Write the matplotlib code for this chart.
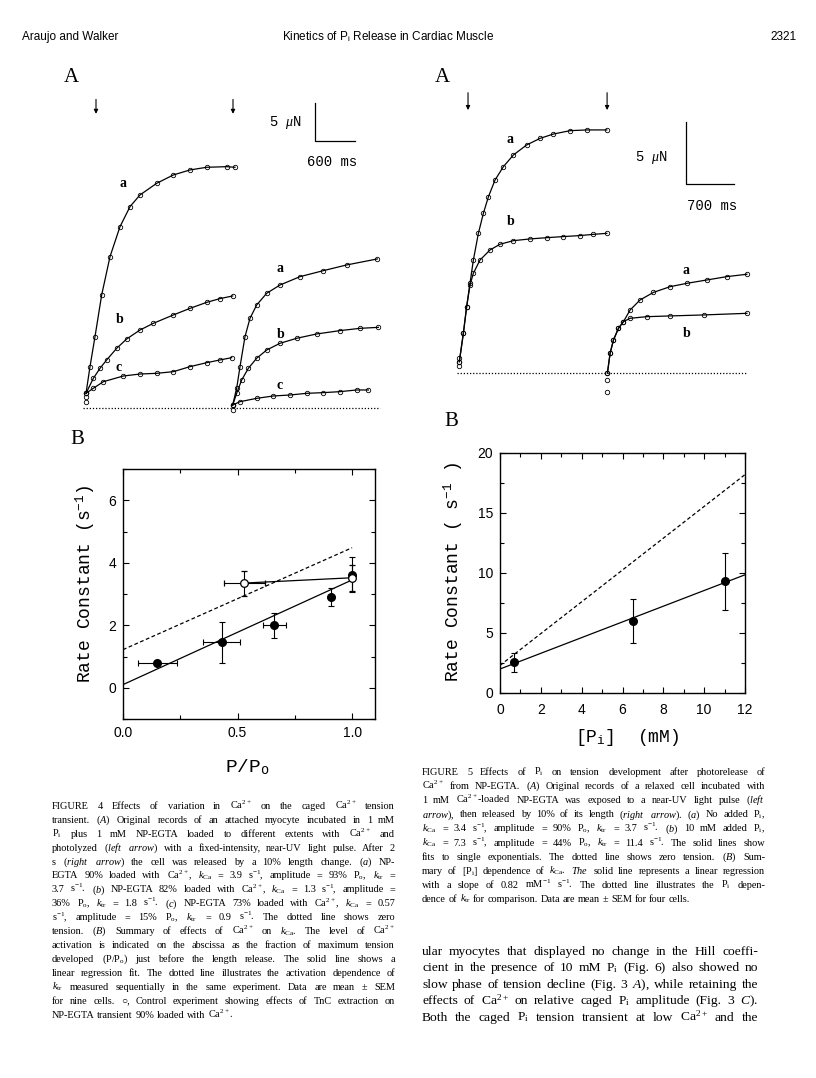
import matplotlib
matplotlib.use("Agg")
import matplotlib.pyplot as plt
from matplotlib.ticker import MultipleLocator

plt.rcParams['mathtext.fontset'] = 'custom'
plt.rcParams['mathtext.rm'] = 'Liberation Serif'
plt.rcParams['mathtext.it'] = 'Liberation Serif:italic'
plt.rcParams['mathtext.bf'] = 'Liberation Serif:bold'
plt.rcParams['mathtext.sf'] = 'Liberation Sans'
plt.rcParams['mathtext.tt'] = 'Liberation Mono'

SERIF = ['Liberation Serif', 'DejaVu Sans']
SANS = 'Liberation Sans'
MONO = 'Liberation Mono'

# ---- Fig 4A traces (time in ms, tension in uN) ----
f4_a1_t = [0, 60, 135, 235, 360, 510, 660, 810, 1060, 1310, 1560, 1810, 2110, 2235]
f4_a1_y = [1.93, 5.44, 9.39, 14.87, 19.91, 23.86, 26.49, 28.03, 29.56, 30.66, 31.32, 31.67, 31.75, 31.67]
f4_b1_t = [0, 110, 210, 310, 460, 610, 810, 1010, 1310, 1560, 1810, 2010, 2200]
f4_b1_y = [1.93, 3.9, 5.22, 6.32, 7.85, 9.08, 10.26, 11.14, 12.24, 13.11, 13.9, 14.39, 14.74]
f4_c1_t = [0, 110, 260, 560, 810, 1060, 1310, 1560, 1810, 2010, 2185]
f4_c1_y = [1.93, 2.59, 3.46, 4.21, 4.47, 4.56, 4.78, 5.44, 5.96, 6.32, 6.62]
f4_a2_t = [2200, 2260, 2310, 2385, 2460, 2560, 2710, 2910, 3210, 3560, 3910, 4370]
f4_a2_y = [0.39, 2.59, 5.44, 9.39, 11.8, 13.55, 15.09, 16.18, 17.28, 18.07, 18.82, 19.61]
f4_b2_t = [2200, 2260, 2335, 2435, 2560, 2710, 2910, 3160, 3460, 3810, 4110, 4385]
f4_b2_y = [0.39, 1.93, 3.68, 5.22, 6.54, 7.63, 8.51, 9.17, 9.74, 10.18, 10.48, 10.61]
f4_c2_t = [2200, 2310, 2560, 2810, 3060, 3310, 3560, 3810, 4060, 4235]
f4_c2_y = [0.39, 0.83, 1.27, 1.58, 1.71, 1.93, 2.02, 2.15, 2.37, 2.37]
f4_extra_t = [0, 0, 2200]
f4_extra_y = [1.49, 0.83, -0.26]

# ---- Fig 5A traces ----
f5_a1_t = [0, 59, 107, 156, 205, 278, 351, 424, 521, 643, 789, 983, 1178, 1373, 1616, 1860, 2152]
f5_a1_y = [0.91, 3.2, 5.35, 7.23, 9.11, 11.26, 12.88, 14.2, 15.56, 16.64, 17.58, 18.39, 18.92, 19.27, 19.54, 19.6, 19.6]
f5_b1_t = [0, 59, 107, 156, 205, 302, 448, 594, 789, 1032, 1275, 1519, 1762, 1957, 2152]
f5_b1_y = [0.91, 3.2, 5.35, 7.1, 8.04, 9.11, 9.92, 10.38, 10.67, 10.81, 10.91, 11.0, 11.08, 11.18, 11.26]
f5_a2_t = [2161, 2200, 2249, 2322, 2395, 2492, 2638, 2833, 3076, 3320, 3612, 3904, 4196]
f5_a2_y = [0.0, 1.59, 2.66, 3.6, 4.14, 5.08, 5.89, 6.5, 6.96, 7.23, 7.5, 7.77, 7.96]
f5_b2_t = [2161, 2200, 2249, 2322, 2395, 2492, 2736, 3076, 3563, 4196]
f5_b2_y = [0.0, 1.59, 2.66, 3.6, 4.14, 4.41, 4.54, 4.6, 4.68, 4.81]
f5_extra_t = [0, 0, 2161, 2161]
f5_extra_y = [1.2, 0.6, -0.56, -1.5]

# ---- Fig 4B ----
f4b_x = [0.15, 0.43, 0.66, 0.91, 1.0]
f4b_y = [0.8, 1.45, 2.0, 2.9, 3.62]
f4b_xerr = [0.085, 0.08, 0.05, 0, 0]
f4b_yerr = [0, 0.65, 0.4, 0.28, 0.55]
f4b_open_x = [0.53, 1.0]
f4b_open_y = [3.35, 3.52]
f4b_open_xerr = [0.09, 0]
f4b_open_yerr = [0.4, 0.42]
f4b_fit_x = [0.0, 1.0]
f4b_fit_y = [0.1, 3.45]
f4b_ktr_x = [0.0, 1.0]
f4b_ktr_y = [1.22, 4.48]

# ---- Fig 5B ----
f5b_x = [0.7, 6.5, 11.0]
f5b_y = [2.55, 6.0, 9.3]
f5b_yerr = [0.8, 1.85, 2.4]
f5b_fit_x = [0, 12]
f5b_fit_y = [2.0, 9.85]
f5b_ktr_x = [0, 12]
f5b_ktr_y = [2.3, 18.2]

W, H = 816, 1078
fig = plt.figure(figsize=(W / 100, H / 100), dpi=100)


def ax_at(x0, y0, x1, y1):
    return fig.add_axes([x0 / W, 1 - y1 / H, (x1 - x0) / W, (y1 - y0) / H])


def ftext(x, y, s, **kw):
    return fig.text(x / W, 1 - y / H, s, **kw)


def justify(line, x0, x1, y, size, full=True):
    words = line.split(' ')
    objs = [ftext(x0, y, w, fontsize=size, family=SERIF, va='baseline') for w in words]
    r = fig.canvas.get_renderer()
    widths = [o.get_window_extent(r).width for o in objs]
    if full and len(words) > 1:
        gap = (x1 - x0 - sum(widths)) / (len(words) - 1)
    else:
        gap = size * 0.35
    x = x0
    for o, w in zip(objs, widths):
        o.set_x(x / W)
        x += w + gap


def trace(ax, t, y):
    ax.plot(t, y, color='k', lw=0.9, marker='o', ms=3.2, mfc='none', mec='k', mew=0.6)


def arrow(ax, t, y0, y1):
    ax.annotate('', xy=(t, y1), xytext=(t, y0),
                arrowprops=dict(arrowstyle='-|>', lw=0.8, color='k', mutation_scale=6,
                                shrinkA=0, shrinkB=0))


# header
ftext(22, 40, 'Araujo and Walker', fontsize=8.5, family=SANS)
ftext(282, 40, r'Kinetics of P$_\mathsf{i}$ Release in Cardiac Muscle', fontsize=8.5, family=SANS)
ftext(797, 40, '2321', fontsize=8.5, family=SANS, ha='right')

# ---------- Fig 4A ----------
ax = ax_at(80, 95, 390, 420)
ax.set_xlim(-90, 4560)
ax.set_ylim(-1.58, 41.18)
ax.axis('off')
for t, y in [(f4_a1_t, f4_a1_y), (f4_b1_t, f4_b1_y), (f4_c1_t, f4_c1_y),
             (f4_a2_t, f4_a2_y), (f4_b2_t, f4_b2_y), (f4_c2_t, f4_c2_y)]:
    trace(ax, t, y)
ax.plot(f4_extra_t, f4_extra_y, 'o', ms=3.2, mfc='none', mec='k', mew=0.6)
ax.plot([-45, 4410], [0, 0], color='k', lw=0.9, ls=(0, (1, 1.5)))
ax.plot([3435, 3435, 4035], [40.13, 35.13, 35.13], color='k', lw=0.9)
ax.text(3240, 37.5, r'5 $\mu$N', family=MONO, fontsize=10, ha='right', va='center')
ax.text(3690, 32.4, '600 ms', family=MONO, fontsize=10, ha='center', va='center')
arrow(ax, 150, 40.6, 38.7)
arrow(ax, 2205, 40.6, 38.7)
for s, t, y in [('a', 555, 29.6), ('b', 510, 11.6), ('c', 495, 5.3),
                ('a', 2910, 18.3), ('b', 2925, 9.7), ('c', 2910, 3.0)]:
    ax.text(t, y, s, family=SERIF, fontweight='bold', fontsize=10, ha='center', va='center')

# ---------- Fig 5A ----------
ax = ax_at(450, 90, 760, 400)
ax.set_xlim(-136, 4387)
ax.set_ylim(-2.18, 22.82)
ax.axis('off')
for t, y in [(f5_a1_t, f5_a1_y), (f5_b1_t, f5_b1_y), (f5_a2_t, f5_a2_y), (f5_b2_t, f5_b2_y)]:
    trace(ax, t, y)
ax.plot(f5_extra_t, f5_extra_y, 'o', ms=3.2, mfc='none', mec='k', mew=0.6)
ax.plot([-34, 4197], [0, 0], color='k', lw=0.9, ls=(0, (1, 1.5)))
ax.plot([3310, 3310, 4010], [20.24, 15.24, 15.24], color='k', lw=0.9)
ax.text(3047, 17.4, r'5 $\mu$N', family=MONO, fontsize=10, ha='right', va='center')
ax.text(3695, 13.5, '700 ms', family=MONO, fontsize=10, ha='center', va='center')
arrow(ax, 127, 22.6, 21.2)
arrow(ax, 2156, 22.6, 21.2)
for s, t, y in [('a', 740, 18.8), ('b', 755, 12.2), ('a', 3310, 8.3), ('b', 3310, 3.2)]:
    ax.text(t, y, s, family=SERIF, fontweight='bold', fontsize=10, ha='center', va='center')


def style_axes(ax):
    for sp in ax.spines.values():
        sp.set_linewidth(1.0)
    ax.tick_params(which='both', direction='in', top=True, right=True, width=0.8)
    ax.tick_params(which='major', length=4, pad=5, labelsize=10)
    ax.tick_params(which='minor', length=3)
    for lab in ax.get_xticklabels() + ax.get_yticklabels():
        lab.set_family(SANS)


# ---------- Fig 4B ----------
ax = ax_at(123, 469, 375, 719)
ax.set_xlim(0, 1.1)
ax.set_ylim(-1, 7)
ax.set_xticks([0, 0.5, 1.0])
ax.set_xticklabels(['0.0', '0.5', '1.0'])
ax.set_yticks([0, 2, 4, 6])
ax.xaxis.set_minor_locator(MultipleLocator(0.25))
ax.yaxis.set_minor_locator(MultipleLocator(1))
style_axes(ax)
ax.plot(f4b_fit_x, f4b_fit_y, color='k', lw=0.9)
ax.plot(f4b_ktr_x, f4b_ktr_y, color='k', lw=0.9, ls=(0, (3, 2)))
ax.plot(f4b_open_x, f4b_open_y, color='k', lw=0.9)
ax.errorbar(f4b_x, f4b_y, xerr=f4b_xerr, yerr=f4b_yerr, fmt='o', color='k', ms=5.5,
            elinewidth=0.8, capsize=2.5, capthick=0.8)
ax.errorbar(f4b_open_x, f4b_open_y, xerr=f4b_open_xerr, yerr=f4b_open_yerr, fmt='o', color='k',
            mfc='white', ms=5.5, mew=0.9, elinewidth=0.8, capsize=2.5, capthick=0.8)
ftext(85, 584, r'Rate Constant (s$^{\mathtt{-1}}$)', family=MONO, fontsize=13,
      rotation=90, ha='center', va='center')
ftext(247, 767, r'P/P$_\mathtt{o}$', family=MONO, fontsize=14, ha='center', va='center')

# ---------- Fig 5B ----------
ax = ax_at(500, 453, 745, 693)
ax.set_xlim(0, 12)
ax.set_ylim(0, 20)
ax.set_xticks(range(0, 13, 2))
ax.set_yticks([0, 5, 10, 15, 20])
ax.xaxis.set_minor_locator(MultipleLocator(1))
ax.yaxis.set_minor_locator(MultipleLocator(2.5))
style_axes(ax)
ax.tick_params(axis='x', pad=7)
ax.plot(f5b_fit_x, f5b_fit_y, color='k', lw=0.9)
ax.plot(f5b_ktr_x, f5b_ktr_y, color='k', lw=0.9, ls=(0, (3, 2)))
ax.errorbar(f5b_x, f5b_y, yerr=f5b_yerr, fmt='o', color='k', ms=5.5,
            elinewidth=0.8, capsize=2.5, capthick=0.8)
ftext(453, 572, r'Rate Constant ( s$^{\mathtt{-1}}$ )', family=MONO, fontsize=13,
      rotation=90, ha='center', va='center')
ftext(627, 737, r'[P$_\mathtt{i}$]  (mM)', family=MONO, fontsize=13, ha='center', va='center')

# panel letters
for s, x, y in [('A', 71, 78), ('A', 442, 78), ('B', 77, 440), ('B', 451, 422)]:
    ftext(x, y, s, family=SERIF, fontsize=15, ha='center', va='center')

# ---------- captions ----------
cap4 = [
    r"FIGURE 4 Effects of variation in Ca$^{2+}$ on the caged Ca$^{2+}$ tension",
    r"transient. ($\mathit{A}$) Original records of an attached myocyte incubated in 1 mM",
    r"P$_\mathrm{i}$ plus 1 mM NP-EGTA loaded to different extents with Ca$^{2+}$ and",
    r"photolyzed ($\mathit{left}$ $\mathit{arrow}$) with a fixed-intensity, near-UV light pulse. After 2",
    r"s ($\mathit{right}$ $\mathit{arrow}$) the cell was released by a 10% length change. ($\mathit{a}$) NP-",
    r"EGTA 90% loaded with Ca$^{2+}$, $k_\mathrm{Ca}$ = 3.9 s$^{-1}$, amplitude = 93% P$_\mathrm{o}$, $k_\mathrm{tr}$ =",
    r"3.7 s$^{-1}$. ($\mathit{b}$) NP-EGTA 82% loaded with Ca$^{2+}$, $k_\mathrm{Ca}$ = 1.3 s$^{-1}$, amplitude =",
    r"36% P$_\mathrm{o}$, $k_\mathrm{tr}$ = 1.8 s$^{-1}$. ($\mathit{c}$) NP-EGTA 73% loaded with Ca$^{2+}$, $k_\mathrm{Ca}$ = 0.57",
    r"s$^{-1}$, amplitude = 15% P$_\mathrm{o}$, $k_\mathrm{tr}$ = 0.9 s$^{-1}$. The dotted line shows zero",
    r"tension. ($\mathit{B}$) Summary of effects of Ca$^{2+}$ on $k_\mathrm{Ca}$. The level of Ca$^{2+}$",
    "activation is indicated on the abscissa as the fraction of maximum tension",
    r"developed (P/P$_\mathrm{o}$) just before the length release. The solid line shows a",
    "linear regression fit. The dotted line illustrates the activation dependence of",
    r"$k_\mathrm{tr}$ measured sequentially in the same experiment. Data are mean ± SEM",
    "for nine cells. ○, Control experiment showing effects of TnC extraction on",
    r"NP-EGTA transient 90% loaded with Ca$^{2+}$.",
]
cap5 = [
    r"FIGURE 5 Effects of P$_\mathrm{i}$ on tension development after photorelease of",
    r"Ca$^{2+}$ from NP-EGTA. ($\mathit{A}$) Original records of a relaxed cell incubated with",
    r"1 mM Ca$^{2+}$-loaded NP-EGTA was exposed to a near-UV light pulse ($\mathit{left}$",
    r"$\mathit{arrow}$), then released by 10% of its length ($\mathit{right}$ $\mathit{arrow}$). ($\mathit{a}$) No added P$_\mathrm{i}$,",
    r"$k_\mathrm{Ca}$ = 3.4 s$^{-1}$, amplitude = 90% P$_\mathrm{o}$, $k_\mathrm{tr}$ = 3.7 s$^{-1}$. ($\mathit{b}$) 10 mM added P$_\mathrm{i}$,",
    r"$k_\mathrm{Ca}$ = 7.3 s$^{-1}$, amplitude = 44% P$_\mathrm{o}$, $k_\mathrm{tr}$ = 11.4 s$^{-1}$. The solid lines show",
    r"fits to single exponentials. The dotted line shows zero tension. ($\mathit{B}$) Sum-",
    r"mary of [P$_\mathrm{i}$] dependence of $k_\mathrm{Ca}$. $\mathit{The}$ solid line represents a linear regression",
    r"with a slope of 0.82 mM$^{-1}$ s$^{-1}$. The dotted line illustrates the P$_\mathrm{i}$ depen-",
    r"dence of $k_\mathrm{tr}$ for comparison. Data are mean ± SEM for four cells.",
]
body = [
    "ular myocytes that displayed no change in the Hill coeffi-",
    r"cient in the presence of 10 mM P$_\mathrm{i}$ (Fig. 6) also showed no",
    r"slow phase of tension decline (Fig. 3 $\mathit{A}$), while retaining the",
    r"effects of Ca$^{2+}$ on relative caged P$_\mathrm{i}$ amplitude (Fig. 3 $\mathit{C}$).",
    r"Both the caged P$_\mathrm{i}$ tension transient at low Ca$^{2+}$ and the",
]

for i, line in enumerate(cap4):
    justify(line, 52, 395, 809 + i * 13.9, 7.4, full=(i < len(cap4) - 1))
for i, line in enumerate(cap5):
    justify(line, 422, 765, 775 + i * 14.1, 7.4, full=(i < len(cap5) - 1))
for i, line in enumerate(body):
    justify(line, 422, 758, 955 + i * 16.4, 9.7)

fig.savefig('out.png', dpi=100)
